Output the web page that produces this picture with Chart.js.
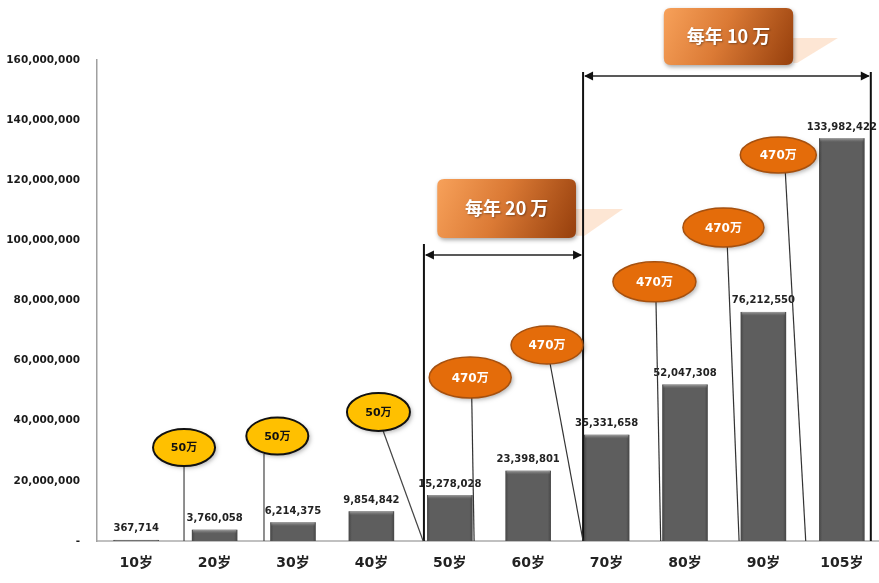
<!DOCTYPE html>
<html><head><meta charset="utf-8">
<script src="https://cdn.jsdelivr.net/npm/chart.js@4.4.0/dist/chart.umd.min.js"></script>
<style>
html,body{margin:0;padding:0;overflow:hidden;background:#fff;width:879px;height:583px}
#wrap{width:879px;height:583px;overflow:hidden;position:relative}
canvas{display:block}
</style></head>
<body><div id="wrap"><canvas id="c" width="884" height="583"></canvas></div>
<script>
// ---- data ----
const categories = ['10岁','20岁','30岁','40岁','50岁','60岁','70岁','80岁','90岁','105岁'];
const values = [367714, 3760058, 6214375, 9854842, 15278028, 23398801, 35331658, 52047308, 76212550, 133982422];
const yTickValues = [0, 20000000, 40000000, 60000000, 80000000, 100000000, 120000000, 140000000, 160000000];

// callouts (positions in chart units: [category position, value])
const calloutLabels = ['50万','50万','50万','470万','470万','470万','470万','470万'];
const calloutKinds  = ['y','y','y','o','o','o','o','o'];
const calloutCenters = [[0.61,31.1e6],[1.80,34.9e6],[3.09,42.9e6],[4.26,54.4e6],[5.24,65.2e6],[6.61,86.2e6],[7.49,104.3e6],[8.19,128.4e6]];
const calloutLineFrom = [[0.61,24.9e6],[1.63,28.9e6],[3.15,36.6e6],[4.28,47.6e6],[5.28,58.9e6],[6.63,79.5e6],[7.54,97.8e6],[8.28,122.4e6]];
const calloutLineTo   = [[0.61,0],[1.63,0],[3.66,0],[4.31,0],[5.70,0],[6.69,0],[7.69,0],[8.54,0]];

// brackets
const bracketLabels = ['每年 20 万','每年 10 万'];
const bracketVerticals = [[3.67,98.8e6],[5.70,156.0e6],[9.37,156.0e6]]; // [cat, top value] down to 0
const bracketArrows = [[3.67,5.70,95.1e6],[5.70,9.37,154.7e6]];
const bracketBoxes = [[3.84,5.61,120.4e6,100.8e6],[6.73,8.38,177.3e6,158.3e6]];
const bracketShadows = [
  [[5.61,110.4e6],[6.21,110.4e6],[5.72,101.5e6],[5.61,101.5e6]],
  [[8.38,167.3e6],[8.95,167.3e6],[8.43,159.0e6],[8.38,159.0e6]]
];

const NUM_FONT = '"DejaVu Sans", "Noto Sans CJK SC", sans-serif';
const CJK_FONT = '"Noto Sans CJK SC", "DejaVu Sans", sans-serif';

function fmt(v){ return v.toLocaleString('en-US'); }

const overlay = {
  id: 'overlay',
  afterDatasetsDraw(chart){
    const ctx = chart.ctx;
    const xs = chart.scales.x, ys = chart.scales.y;
    const P = (c,v) => [xs.getPixelForValue(c), ys.getPixelForValue(v)];
    ctx.save();
    const meta = chart.getDatasetMeta(0);
    // bar bevel
    meta.data.forEach(bar=>{
      const w = bar.width, l = bar.x - w/2, r = bar.x + w/2, t = bar.y, b = bar.base;
      const h = b - t;
      const gs = ctx.createLinearGradient(l,0,r,0);
      gs.addColorStop(0,'rgba(40,40,40,0.45)'); gs.addColorStop(0.07,'rgba(40,40,40,0)');
      gs.addColorStop(0.93,'rgba(40,40,40,0)'); gs.addColorStop(1,'rgba(40,40,40,0.45)');
      ctx.fillStyle = gs; ctx.fillRect(l,t,w,h);
      const th = Math.min(4,h);
      const gt = ctx.createLinearGradient(0,t,0,t+th);
      gt.addColorStop(0,'rgba(170,170,170,0.9)'); gt.addColorStop(1,'rgba(120,120,120,0)');
      ctx.fillStyle = gt; ctx.fillRect(l+1,t,w-2,th);
    });
    // data labels
    ctx.font = 'bold 10px ' + NUM_FONT;
    ctx.fillStyle = '#222';
    ctx.textAlign = 'center';
    ctx.textBaseline = 'bottom';
    meta.data.forEach((bar,i)=>{
      ctx.fillText(fmt(values[i]), bar.x, bar.y - 6);
    });

    // bracket shadows (pale)
    ctx.fillStyle = 'rgba(252,221,198,0.75)';
    bracketShadows.forEach(poly=>{
      ctx.beginPath();
      poly.forEach((p,j)=>{ const [x,y]=P(p[0],p[1]); j?ctx.lineTo(x,y):ctx.moveTo(x,y); });
      ctx.closePath(); ctx.fill();
    });

    // bracket boxes
    bracketBoxes.forEach((b,i)=>{
      const [x1,y1] = P(b[0],b[2]); const [x2,y2] = P(b[1],b[3]);
      const r = 7;
      ctx.save();
      ctx.shadowColor = 'rgba(0,0,0,0.35)'; ctx.shadowBlur = 4; ctx.shadowOffsetX = 1; ctx.shadowOffsetY = 2;
      const g = ctx.createLinearGradient(x1,y1,x2,y2);
      g.addColorStop(0,'#f7a15a'); g.addColorStop(0.45,'#db7a35'); g.addColorStop(1,'#963f0c');
      ctx.fillStyle = g;
      ctx.beginPath();
      ctx.moveTo(x1+r,y1); ctx.lineTo(x2-r,y1); ctx.quadraticCurveTo(x2,y1,x2,y1+r);
      ctx.lineTo(x2,y2-r); ctx.quadraticCurveTo(x2,y2,x2-r,y2);
      ctx.lineTo(x1+r,y2); ctx.quadraticCurveTo(x1,y2,x1,y2-r);
      ctx.lineTo(x1,y1+r); ctx.quadraticCurveTo(x1,y1,x1+r,y1);
      ctx.closePath(); ctx.fill();
      ctx.restore();
      ctx.save();
      ctx.shadowColor = 'rgba(0,0,0,0.35)'; ctx.shadowBlur = 2; ctx.shadowOffsetX = 1; ctx.shadowOffsetY = 1;
      ctx.font = 'bold 18px ' + CJK_FONT;
      ctx.fillStyle = '#fff'; ctx.textAlign = 'center'; ctx.textBaseline = 'middle';
      ctx.fillText(bracketLabels[i], (x1+x2)/2, (y1+y2)/2);
      ctx.restore();
    });

    // bracket vertical lines
    ctx.strokeStyle = '#111'; ctx.lineWidth = 2;
    bracketVerticals.forEach(v=>{
      const [x,yt] = P(v[0],v[1]); const [,yb] = P(v[0],0);
      ctx.beginPath(); ctx.moveTo(x,yt); ctx.lineTo(x,yb); ctx.stroke();
    });
    // arrows
    bracketArrows.forEach(a=>{
      const [x1,y] = P(a[0],a[2]); const [x2] = P(a[1],a[2]);
      ctx.strokeStyle = '#222'; ctx.lineWidth = 1.5;
      ctx.beginPath(); ctx.moveTo(x1+2,y); ctx.lineTo(x2-2,y); ctx.stroke();
      ctx.fillStyle = '#111';
      ctx.beginPath(); ctx.moveTo(x1+1,y); ctx.lineTo(x1+10,y-4.5); ctx.lineTo(x1+10,y+4.5); ctx.closePath(); ctx.fill();
      ctx.beginPath(); ctx.moveTo(x2-1,y); ctx.lineTo(x2-10,y-4.5); ctx.lineTo(x2-10,y+4.5); ctx.closePath(); ctx.fill();
    });

    // callout lines
    calloutLabels.forEach((t,i)=>{
      const [x1,y1] = P(calloutLineFrom[i][0],calloutLineFrom[i][1]);
      const [x2,y2] = P(calloutLineTo[i][0],calloutLineTo[i][1]);
      ctx.strokeStyle = calloutKinds[i]==='y' ? '#444' : '#333';
      ctx.lineWidth = 1.2;
      ctx.beginPath(); ctx.moveTo(x1,y1); ctx.lineTo(x2,y2); ctx.stroke();
    });
    // callout ellipses
    const radii = [[31,18.5],[31,18.5],[31.5,19],[41,20.5],[36,19],[41.5,20],[40.5,19.5],[38,18]];
    calloutLabels.forEach((t,i)=>{
      const [cx,cy] = P(calloutCenters[i][0],calloutCenters[i][1]);
      const [rx,ry] = radii[i];
      const yel = calloutKinds[i]==='y';
      ctx.save();
      ctx.shadowColor = 'rgba(0,0,0,0.3)'; ctx.shadowBlur = 4; ctx.shadowOffsetX = 2; ctx.shadowOffsetY = 2;
      ctx.beginPath(); ctx.ellipse(cx,cy,rx,ry,0,0,Math.PI*2);
      ctx.fillStyle = yel ? '#ffc000' : '#e46c0a';
      ctx.fill();
      ctx.restore();
      ctx.beginPath(); ctx.ellipse(cx,cy,rx,ry,0,0,Math.PI*2);
      ctx.strokeStyle = yel ? '#111' : '#a5500f';
      ctx.lineWidth = yel ? 2 : 1.5;
      ctx.stroke();
      ctx.font = 'bold ' + (yel ? 11 : 12) + 'px ' + NUM_FONT;
      ctx.fillStyle = yel ? '#111' : '#fff';
      ctx.textAlign = 'center'; ctx.textBaseline = 'middle';
      ctx.fillText(t, cx, cy+1);
    });
    ctx.restore();
  }
};

new Chart(document.getElementById('c'), {
  type: 'bar',
  data: {
    labels: categories,
    datasets: [{
      data: values,
      backgroundColor: '#5e5e5e',
      borderWidth: 0,
      categoryPercentage: 1.0,
      barPercentage: 0.58
    }]
  },
  options: {
    responsive: false,
    animation: false,
    devicePixelRatio: 1,
    layout: {padding: {top: 60, right: 3, left: 0, bottom: 0}},
    plugins: {legend: {display: false}, tooltip: {enabled: false}},
    scales: {
      x: {
        grid: {display: false, drawTicks: false},
        border: {display: true, color: '#c0c0c0', width: 2},
        ticks: {padding: 14, color: '#222', font: {size: 14, weight: 'bold', family: NUM_FONT}, maxRotation: 0, autoSkip: false},
        afterFit(s){ s.height = 42; }
      },
      y: {
        min: 0, max: 160000000,
        afterBuildTicks(s){ s.ticks = yTickValues.map(v=>({value:v})); },
        grid: {display: false, drawTicks: false},
        border: {display: true, color: '#a0a0a0', width: 1.5},
        ticks: {padding: 17, color: '#1a1a1a', font: {size: 10.5, weight: 'bold', family: NUM_FONT},
          callback: v => v === 0 ? '-' : fmt(v)},
        afterFit(s){ s.width = 97; }
      }
    }
  },
  plugins: [overlay]
});
</script>
</body></html>
